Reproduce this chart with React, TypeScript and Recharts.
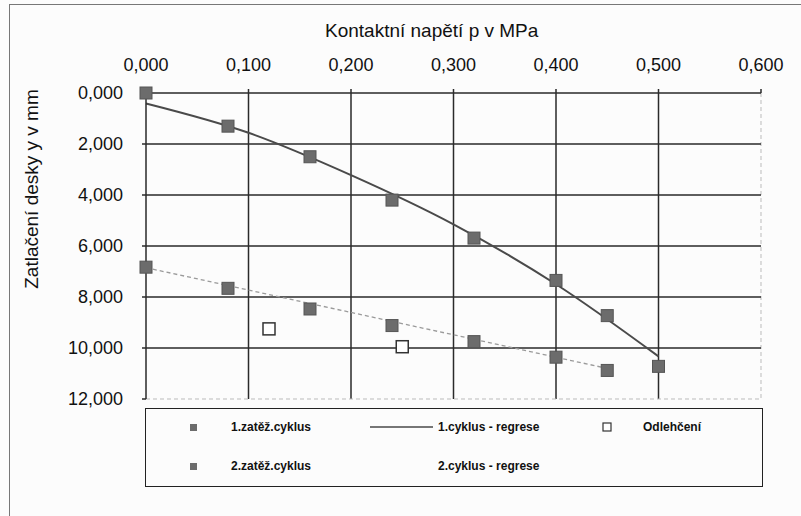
import React from "react";
import { ComposedChart, Scatter, Line, XAxis, YAxis, ReferenceLine } from "recharts";

// contact stress p [MPa] vs plate settlement y [mm]
const xTicks = [0, 0.1, 0.2, 0.3, 0.4, 0.5, 0.6];
const yTicks = [0, 2, 4, 6, 8, 10, 12];

const cycle1 = [
  { p: 0, y: 0 },
  { p: 0.08, y: 1.3 },
  { p: 0.16, y: 2.5 },
  { p: 0.24, y: 4.2 },
  { p: 0.32, y: 5.69 },
  { p: 0.4, y: 7.35 },
  { p: 0.45, y: 8.73 },
  { p: 0.5, y: 10.72 },
];

const cycle2 = [
  { p: 0, y: 6.83 },
  { p: 0.08, y: 7.66 },
  { p: 0.16, y: 8.47 },
  { p: 0.24, y: 9.12 },
  { p: 0.32, y: 9.75 },
  { p: 0.4, y: 10.36 },
  { p: 0.45, y: 10.88 },
];

const unloading = [
  { p: 0.12, y: 9.25 },
  { p: 0.25, y: 9.95 },
];

const regression1 = [
  { p: 0, y: 0.41 },
  { p: 0.1, y: 1.56 },
  { p: 0.2, y: 3.22 },
  { p: 0.3, y: 5.15 },
  { p: 0.4, y: 7.5 },
  { p: 0.5, y: 10.33 },
];

const regression2 = [
  { p: 0, y: 6.85 },
  { p: 0.45, y: 10.8 },
];

const FONT = "'Liberation Sans', Arial, sans-serif";
const GRID = "#2a2a2a";
const MARK = "#6c6c6c";

const fmt = (v: number) => v.toFixed(3).replace(".", ",");

const FilledSquare = (props: any) => (
  <rect x={props.cx - 6} y={props.cy - 6} width={12} height={12} fill={MARK} stroke="#555" strokeWidth={1} />
);

const OpenSquare = (props: any) => (
  <rect x={props.cx - 6} y={props.cy - 6} width={12} height={12} fill="#fff" stroke="#333" strokeWidth={1.5} />
);

const XTick = (props: any) => (
  <text x={props.x} y={props.y - 16} textAnchor="middle" fontSize={18} fill="#111" fontFamily={FONT}>
    {fmt(props.payload.value)}
  </text>
);

const YTick = (props: any) => (
  <text x={props.x - 17} y={props.y} dy="0.36em" textAnchor="end" fontSize={18} fill="#111" fontFamily={FONT}>
    {fmt(props.payload.value)}
  </text>
);

const legendRow1 = ["1.zatěž.cyklus", "1.cyklus - regrese", "Odlehčení"];
const legendRow2 = ["2.zatěž.cyklus", "2.cyklus - regrese"];

export default function App() {
  const legendText: React.CSSProperties = {
    position: "absolute",
    fontSize: 12,
    fontWeight: "bold",
    color: "#111",
    whiteSpace: "nowrap",
    lineHeight: "14px",
  };
  return (
    <div style={{ position: "fixed", left: 0, top: 0, width: 801, height: 516, background: "#fcfcfc", fontFamily: FONT }}>
      <div style={{ position: "absolute", left: 9, top: 4, width: 820, height: 530, border: "1.5px solid #777" }} />
      <div style={{ position: "absolute", left: 325, top: 20, fontSize: 19, color: "#111", whiteSpace: "nowrap" }}>
        Kontaktní napětí p v MPa
      </div>
      <div
        style={{
          position: "absolute",
          left: 32,
          top: 189,
          transform: "translate(-50%, -50%) rotate(-90deg)",
          fontSize: 19,
          color: "#111",
          whiteSpace: "nowrap",
        }}
      >
        Zatlačení desky y v mm
      </div>
      <ComposedChart
        width={801}
        height={516}
        margin={{ top: 63, left: 66, right: 40, bottom: 117 }}
        style={{ position: "absolute", left: 0, top: 0 }}
      >
        <XAxis
          type="number"
          dataKey="p"
          orientation="top"
          domain={[0, 0.6]}
          ticks={xTicks}
          height={30}
          tick={<XTick />}
          tickSize={4}
          axisLine={{ stroke: GRID, strokeWidth: 1.5 }}
          tickLine={{ stroke: GRID, strokeWidth: 1.5 }}
        />
        <YAxis
          type="number"
          dataKey="y"
          reversed
          domain={[0, 12]}
          ticks={yTicks}
          width={80}
          tick={<YTick />}
          tickSize={4}
          axisLine={{ stroke: GRID, strokeWidth: 1.5 }}
          tickLine={{ stroke: GRID, strokeWidth: 1.5 }}
        />
        {xTicks.slice(1).map((t) => (
          <ReferenceLine
            key={"vx" + t}
            x={t}
            stroke={t === 0.6 ? "#bbb" : GRID}
            strokeWidth={t === 0.6 ? 1 : 1.5}
            strokeDasharray={t === 0.6 ? "4 3" : undefined}
          />
        ))}
        {yTicks.slice(1).map((t) => (
          <ReferenceLine
            key={"hy" + t}
            y={t}
            stroke={t === 12 ? "#bbb" : GRID}
            strokeWidth={t === 12 ? 1 : 1.5}
            strokeDasharray={t === 12 ? "4 3" : undefined}
          />
        ))}
        <Line
          data={regression2}
          dataKey="y"
          type="linear"
          stroke="#9a9a9a"
          strokeWidth={1.3}
          strokeDasharray="4 3"
          dot={false}
          isAnimationActive={false}
        />
        <Line
          data={regression1}
          dataKey="y"
          type="monotone"
          stroke="#4a4a4a"
          strokeWidth={2}
          dot={false}
          isAnimationActive={false}
        />
        <Scatter data={cycle2} dataKey="y" shape={<FilledSquare />} isAnimationActive={false} />
        <Scatter data={cycle1} dataKey="y" shape={<FilledSquare />} isAnimationActive={false} />
        <Scatter data={unloading} dataKey="y" shape={<OpenSquare />} isAnimationActive={false} />
      </ComposedChart>
      <div style={{ position: "absolute", left: 145, top: 408, width: 616, height: 77, border: "1.5px solid #222" }}>
        <svg style={{ position: "absolute", left: 0, top: 0 }} width={616} height={77}>
          <rect x={44} y={15} width={7} height={7} fill={MARK} />
          <rect x={44} y={54} width={7} height={7} fill={MARK} />
          <line x1={224} x2={287} y1={18} y2={18} stroke="#4a4a4a" strokeWidth={1.5} />
          <rect x={457} y={14} width={8} height={8} fill="#fff" stroke="#333" strokeWidth={1.2} />
        </svg>
        <div style={{ ...legendText, left: 85, top: 11 }}>{legendRow1[0]}</div>
        <div style={{ ...legendText, left: 292, top: 11 }}>{legendRow1[1]}</div>
        <div style={{ ...legendText, left: 497, top: 11 }}>{legendRow1[2]}</div>
        <div style={{ ...legendText, left: 85, top: 50 }}>{legendRow2[0]}</div>
        <div style={{ ...legendText, left: 292, top: 50 }}>{legendRow2[1]}</div>
      </div>
    </div>
  );
}
